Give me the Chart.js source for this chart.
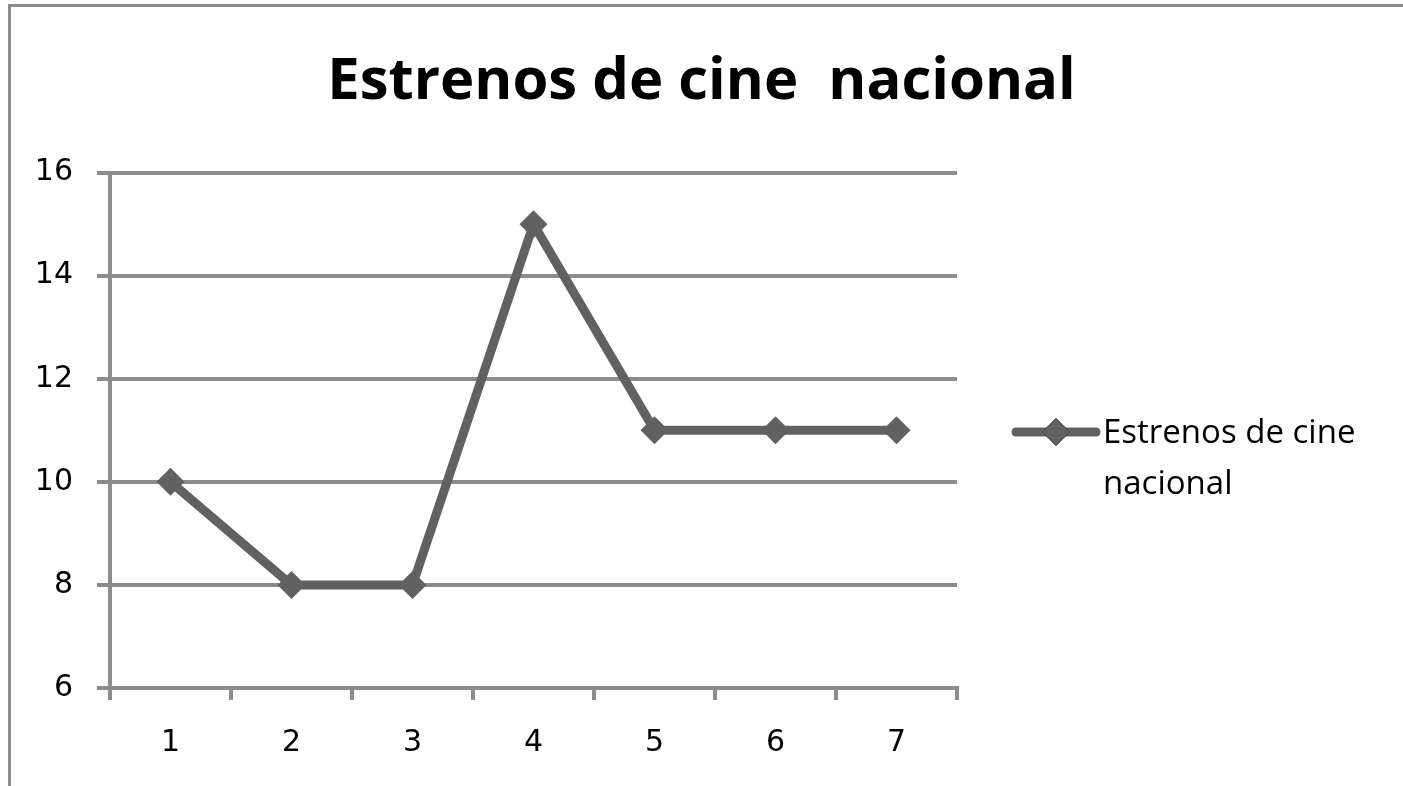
<!DOCTYPE html>
<html>
<head>
<meta charset="utf-8">
<script src="https://cdn.jsdelivr.net/npm/chart.js@4"></script>
<style>
  html, body { margin: 0; padding: 0; background: #fff; }
  #wrap { position: relative; width: 1403px; height: 786px; overflow: hidden; }
  #frame { position: absolute; left: 8px; top: 4px; width: 1500px; height: 900px; border: 3px solid #8c8c8c; box-sizing: border-box; }
  canvas { position: absolute; left: 0; top: 0; }
</style>
</head>
<body>
<div id="wrap">
  <div id="frame"></div>
  <canvas id="estrenosChart" width="1403" height="786"></canvas>
</div>
<script>
const categories = ['1', '2', '3', '4', '5', '6', '7'];
const estrenos = [10, 8, 8, 15, 11, 11, 11];
const yTicks = [6, 8, 10, 12, 14, 16];
const seriesName = 'Estrenos de cine nacional';
const legendLines = ['Estrenos de cine', 'nacional'];

const lineColor = '#616161';
const gridColor = '#8c8c8c';

// legend drawn by hand so the label can wrap onto two lines like the original
const sideLegend = {
    id: 'sideLegend',
    afterDraw(chart) {
        const ctx = chart.ctx;
        const y = 432;
        ctx.save();
        ctx.strokeStyle = lineColor;
        ctx.lineWidth = 9;
        ctx.lineCap = 'round';
        ctx.beginPath();
        ctx.moveTo(1016, y);
        ctx.lineTo(1096, y);
        ctx.stroke();
        Chart.helpers.drawPoint(ctx, { pointStyle: 'rectRot', radius: 14, borderWidth: 0 }, 1056, y);
        ctx.fillStyle = lineColor;
        ctx.fill();
        ctx.fillStyle = '#000';
        ctx.font = '33px "Open Sans"';
        ctx.textBaseline = 'middle';
        legendLines.forEach((t, i) => ctx.fillText(t, 1103, y + 2 + i * 51));
        ctx.restore();
    }
};

new Chart(document.getElementById('estrenosChart'), {
    type: 'line',
    data: {
        labels: categories,
        datasets: [{
            label: seriesName,
            data: estrenos,
            borderColor: lineColor,
            backgroundColor: lineColor,
            borderWidth: 9,
            pointStyle: 'rectRot',
            pointRadius: 14,
            pointBorderWidth: 0,
            tension: 0
        }]
    },
    options: {
        responsive: false,
        animation: false,
        plugins: {
            legend: { display: false },
            tooltip: { enabled: false },
            title: {
                display: true,
                text: 'Estrenos de cine  nacional',
                color: '#000',
                font: { family: 'Open Sans', size: 58, weight: 'bold', lineHeight: 1.2 },
                padding: { top: 48, bottom: 55 }
            }
        },
        scales: {
            x: {
                offset: true,
                grid: { display: true, drawOnChartArea: false, offset: true, color: gridColor, lineWidth: 4, tickLength: 12 },
                border: { color: gridColor, width: 4 },
                ticks: { color: '#000', font: { family: 'DejaVu Sans', size: 30 }, padding: 25, maxRotation: 0 },
                afterFit(scale) { scale.height = 98; }
            },
            y: {
                min: 6,
                max: 16,
                afterBuildTicks(scale) { scale.ticks = yTicks.map(v => ({ value: v })); },
                grid: { color: gridColor, lineWidth: 4, tickLength: 13 },
                border: { color: gridColor, width: 4 },
                ticks: { color: '#000', font: { family: 'DejaVu Sans', size: 30 }, padding: 24 },
                afterFit(scale) { scale.width = 110; }
            },
            // empty right-hand axis that reserves room for the legend
            side: {
                position: 'right',
                display: true,
                grid: { display: false },
                border: { display: false },
                ticks: { display: false },
                afterFit(scale) { scale.width = 446; }
            }
        }
    },
    plugins: [sideLegend]
});
</script>
</body>
</html>
